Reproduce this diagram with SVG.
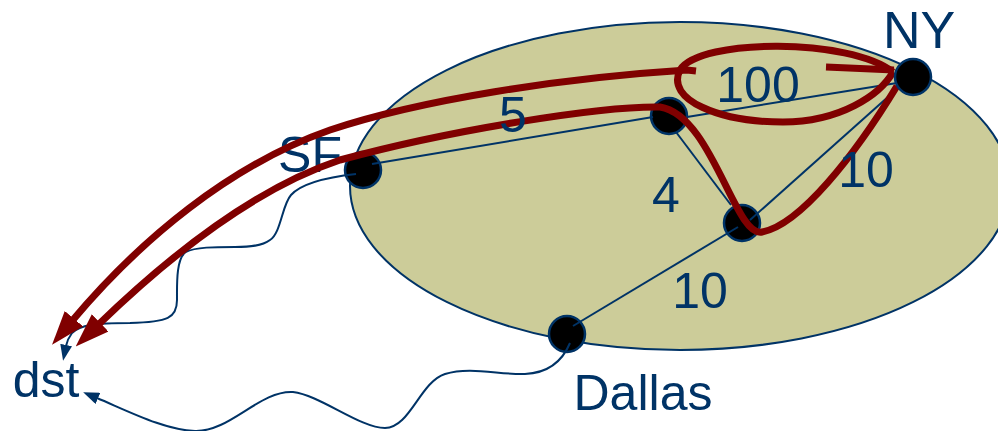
<svg xmlns="http://www.w3.org/2000/svg" width="998" height="431" viewBox="0 0 998 431">
<style>
.lbl{font-family:"Liberation Sans",Arial,sans-serif;font-size:50px;fill:#003366}
.node{fill:#000;stroke:#003366;stroke-width:2.5}
.edge{stroke:#003366;stroke-width:2;fill:none}
.wavy{stroke:#003366;stroke-width:2;fill:none;marker-end:url(#blueArrow)}
.route{stroke:#800000;stroke-width:7;fill:none}
</style>
<defs>
<marker id="redArrow" markerUnits="userSpaceOnUse" viewBox="0 0 34 26" markerWidth="34" markerHeight="26" refX="3" refY="13" orient="auto">
<path d="M0,1 L34,13 L0,25 z" fill="#800000"/>
</marker>
<marker id="blueArrow" markerUnits="userSpaceOnUse" viewBox="0 0 16 12" markerWidth="16" markerHeight="12" refX="1" refY="6" orient="auto">
<path d="M0,0 L16,6 L0,12 z" fill="#003366"/>
</marker>
</defs>
<rect width="998" height="431" fill="#fff"/>
<ellipse id="region" cx="680" cy="186" rx="330" ry="164" fill="#CCCC99" stroke="#003366" stroke-width="2"/>
<g id="node-SF"><circle class="node" cx="363" cy="170" r="18"/><text class="lbl" x="310" y="172" text-anchor="middle">SF</text></g>
<g id="node-A"><circle class="node" cx="669" cy="116" r="18"/></g>
<g id="node-B"><circle class="node" cx="742" cy="223" r="18"/></g>
<g id="node-Dallas"><circle class="node" cx="567" cy="334" r="18"/><text class="lbl" x="643" y="410" text-anchor="middle">Dallas</text></g>
<g id="node-dst"><text class="lbl" x="46" y="397" text-anchor="middle">dst</text></g>
<g id="connectors">
<line class="edge" x1="372" y1="164" x2="653" y2="117"/>
<line class="edge" x1="687" y1="117" x2="897" y2="83"/>
<line class="edge" x1="676" y1="132" x2="731" y2="205"/>
<line class="edge" x1="750" y1="220" x2="898" y2="88"/>
<line class="edge" x1="738" y1="227" x2="573" y2="326"/>
<path class="wavy" d="M356,174 C320,178 300,185 291,195 C282,205 281,233 270,240 C262,246 250,247 235,247 C215,247 195,247 186,252 C176,258 177,285 177,300 C177,318 168,322 130,323 C95,323 80,325 72,333 C69,337 67,341 66,346"/>
<path class="wavy" d="M570,343 C562,362 548,373 525,374 C500,375 470,366 445,374 C420,382 410,428 385,428 C360,428 320,395 293,392 C260,390 230,432 195,431 C165,430 130,412 97,398"/>
<path class="route" d="M893,72 C850,38 700,38 680,70 C665,100 720,122 783,122 C840,122 880,95 893,72"/>
<path class="route" d="M826,67 L894,70"/>
<path class="route" marker-end="url(#redArrow)" d="M696,71 L687,70 C560,78 420,100 330,130 C230,165 140,240 72,321"/>
<path class="route" marker-end="url(#redArrow)" d="M897,86 C855,155 800,225 762,232 C735,238 712,115 660,107 C600,106 450,130 340,160 C250,190 160,265 98,325"/>
<text class="lbl" x="513" y="132" text-anchor="middle">5</text>
<text class="lbl" x="758" y="102" text-anchor="middle">100</text>
<text class="lbl" x="666" y="212" text-anchor="middle">4</text>
<text class="lbl" x="866" y="187" text-anchor="middle">10</text>
<text class="lbl" x="700" y="308" text-anchor="middle">10</text>
</g>
<g id="node-NY"><circle class="node" cx="913" cy="77" r="18"/><text class="lbl" x="919" y="48" text-anchor="middle" style="font-size:52px">NY</text></g>
</svg>
